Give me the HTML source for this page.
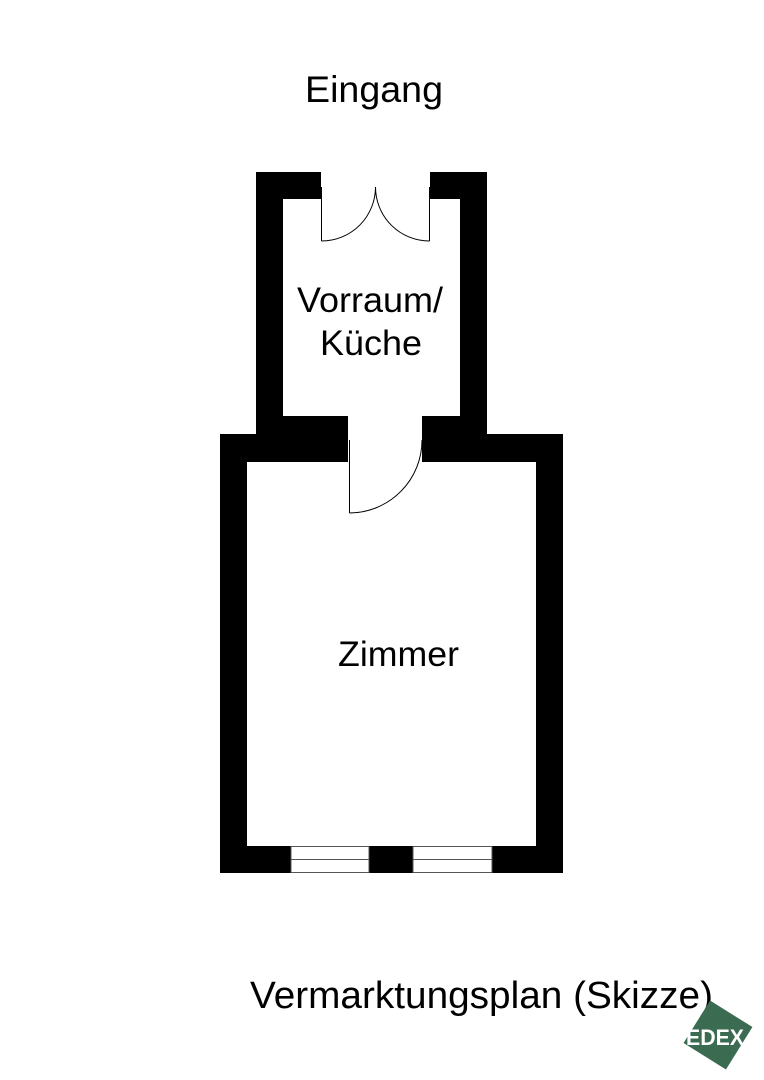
<!DOCTYPE html>
<html><head><meta charset="utf-8"><style>
html,body{margin:0;padding:0;background:#fff;}
svg{display:block}
text{font-family:"Liberation Sans",Arial,sans-serif;fill:#000}
</style></head><body>
<svg width="764" height="1080" viewBox="0 0 764 1080" xmlns="http://www.w3.org/2000/svg">
<rect width="764" height="1080" fill="#fff"/>
<path fill="#000" d="M256 172 H321 V199 H283 V416 H348 V462 H247 V846 H291 V873 H220 V434 H256 Z"/>
<path fill="#000" d="M430 172 H487 V434 H563 V873 H492 V846 H536 V462 H422 V416 H460 V199 H430 Z"/>
<rect x="369" y="846" width="44" height="27" fill="#000"/>
<g stroke="#555" stroke-width="1" fill="none">
<rect x="291" y="846.5" width="78" height="26"/>
<rect x="413" y="846.5" width="79" height="26"/>
<line x1="291" y1="859.5" x2="369" y2="859.5"/>
<line x1="413" y1="859.5" x2="492" y2="859.5"/>
</g>
<g stroke="#000" stroke-width="1" fill="none">
<line x1="321.5" y1="187" x2="321.5" y2="241"/>
<line x1="429.5" y1="187" x2="429.5" y2="241"/>
<path d="M321.5 241 A54 54 0 0 0 375.5 187"/>
<path d="M429.5 241 A54 54 0 0 1 375.5 187"/>
<line x1="349.5" y1="440" x2="349.5" y2="513"/>
<path d="M349.5 513 A73 73 0 0 0 422 440"/>
</g>
<text x="305" y="102" font-size="37" textLength="138" lengthAdjust="spacingAndGlyphs">Eingang</text>
<text x="297" y="312" font-size="35" textLength="146" lengthAdjust="spacingAndGlyphs">Vorraum/</text>
<text x="320" y="355" font-size="35" textLength="102" lengthAdjust="spacingAndGlyphs">Küche</text>
<text x="338" y="666" font-size="35" textLength="121" lengthAdjust="spacingAndGlyphs">Zimmer</text>
<text x="250" y="1008" font-size="38" textLength="463" lengthAdjust="spacingAndGlyphs">Vermarktungsplan (Skizze)</text>
<g transform="translate(718,1035) rotate(32)">
<rect x="-25" y="-25" width="50" height="50" fill="#3b6b50"/>
</g>
<text x="686" y="1045" font-size="22" font-weight="bold" textLength="58" lengthAdjust="spacingAndGlyphs" style="fill:#fff">EDEX</text>
</svg>
</body></html>
